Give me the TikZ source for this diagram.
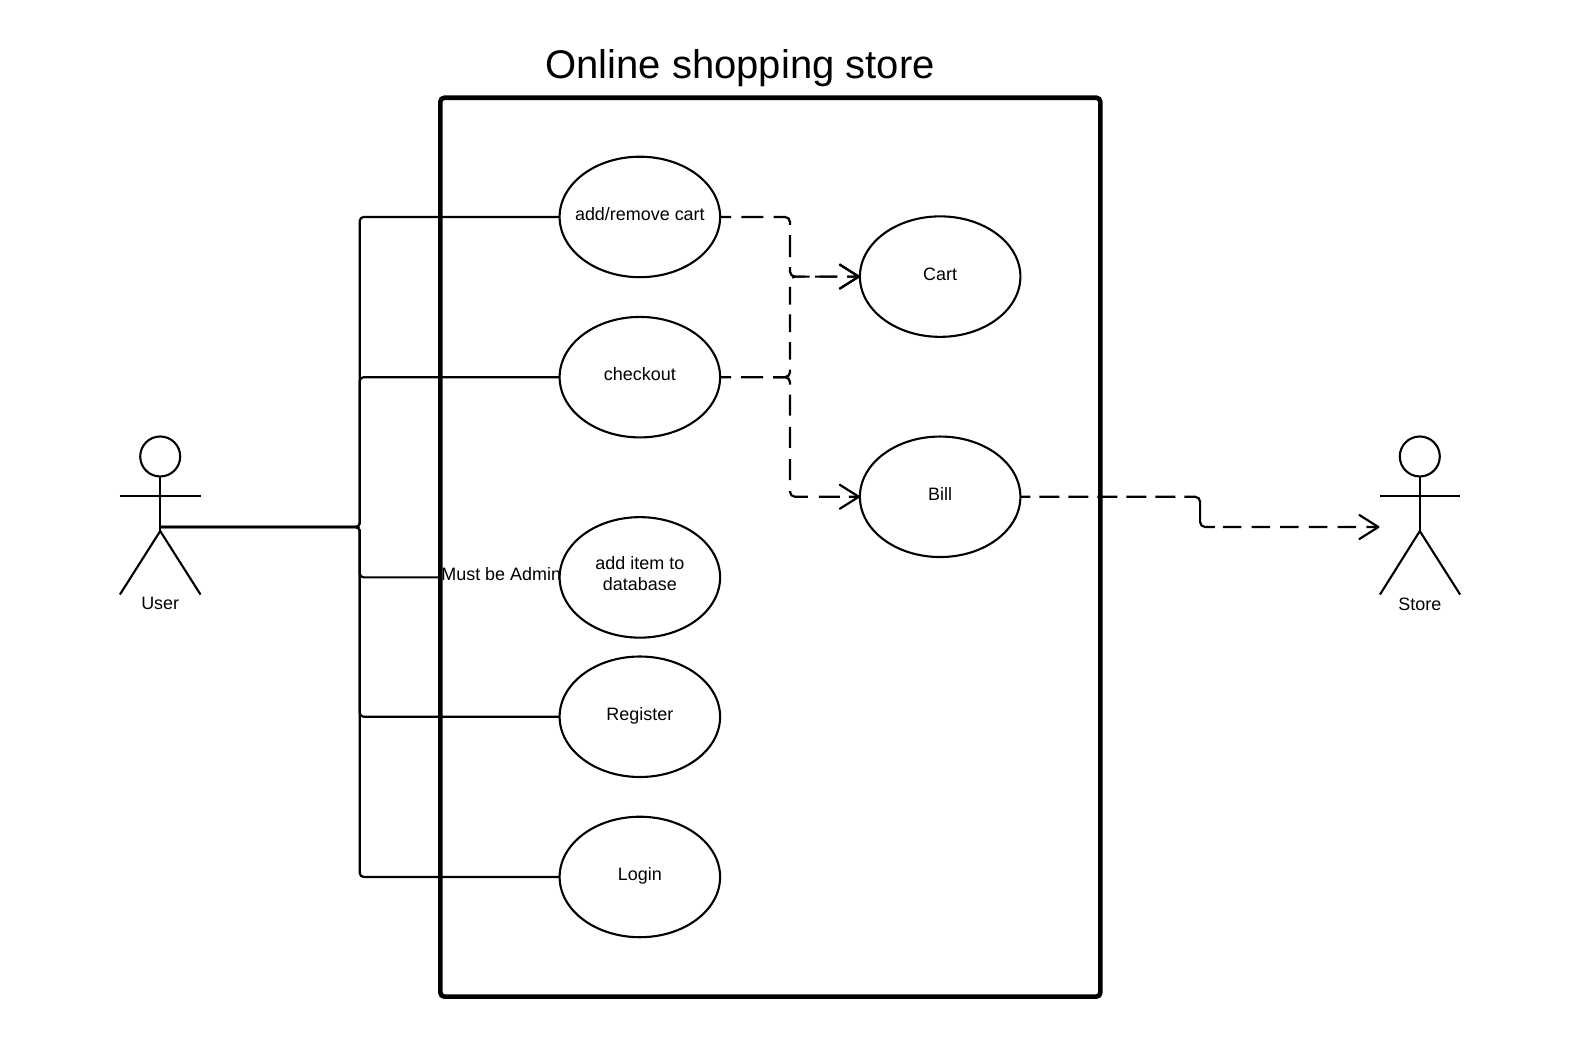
\documentclass[tikz,border=0pt]{standalone}
\usepackage{fontspec}
\setmainfont{Liberation Sans}
\usetikzlibrary{shapes.geometric,arrows.meta}
\tikzset{
  x=1.0077pt,y=-1.0077pt,
  lbl/.style={font=\fontsize{17.95pt}{21pt}\selectfont,align=center,inner sep=0pt,outer sep=0pt},
  usecase/.style={draw,ellipse,line width=2.1pt,minimum width=160.5pt,minimum height=120.5pt,inner sep=0pt,outer sep=0pt,font=\fontsize{17.95pt}{21pt}\selectfont},
  assoc/.style={line width=2.2pt,rounded corners=4pt},
  dep/.style={line width=2.2pt,rounded corners=5pt},
  deparrow/.style={dep,-{Straight Barb[length=19pt,width=24pt,line width=2.2pt,round]}},
  head/.style={draw,circle,line width=2.1pt,minimum size=40pt,inner sep=0pt,outer sep=0pt},
  limb/.style={line width=2.1pt},
  frame/.style={draw,line width=4.6pt,rounded corners=4pt}
}
\begin{document}
\begin{tikzpicture}
\useasboundingbox (0,0) rectangle (1568,1029);
\node[lbl,font=\fontsize{40pt}{46pt}\selectfont] (title) at (734.5,67.5) {Online shopping store};
\coordinate (fa) at (437,97);
\coordinate (fb) at (1092,989);
\draw[frame] (fa) rectangle (fb);

\node[usecase] (addcart) at (635,215.3) {\makebox[0pt]{\raisebox{6pt}{add/remove cart}}};
\node[usecase] (checkout) at (635,374.3) {\makebox[0pt]{\raisebox{7pt}{checkout}}};
\node[usecase] (additem) at (635,573) {\makebox[0pt]{\raisebox{20pt}{\begin{tabular}{@{}c@{}}add item to\\[0.7pt]database\end{tabular}}}};
\node[usecase] (register) at (635,711.3) {\makebox[0pt]{\raisebox{6pt}{Register}}};
\node[usecase] (login) at (635,870.3) {\makebox[0pt]{\raisebox{6pt}{Login}}};
\node[usecase] (cart) at (933,274.5) {\makebox[0pt]{\raisebox{4pt}{Cart}}};
\node[usecase] (bill) at (933,493) {\makebox[0pt]{\raisebox{6pt}{Bill}}};

% User actor
\node[head] (uhead) at (159,453) {};
\coordinate (uhip) at (159,527);
\coordinate (ularm) at (119,492);
\coordinate (urarm) at (199,492);
\coordinate (ulleg) at (119,590);
\coordinate (urleg) at (199,590);
\draw[limb] (uhead.south) -- (uhip);
\draw[limb] (ularm) -- (urarm);
\draw[limb] (ulleg) -- (uhip) -- (urleg);
\node[lbl] (user) at (159,599) {User};

% Store actor
\node[head] (shead) at (1409,453) {};
\coordinate (ship) at (1409,527);
\coordinate (slarm) at (1369.5,492);
\coordinate (srarm) at (1449,492);
\coordinate (slleg) at (1369.5,590);
\coordinate (srleg) at (1449,590);
\draw[limb] (shead.south) -- (ship);
\draw[limb] (slarm) -- (srarm);
\draw[limb] (slleg) -- (ship) -- (srleg);
\node[lbl] (store) at (1409,599.5) {Store};

% Associations
\node[lbl,anchor=west] (admin) at (438,570) {Must be Admin};
\coordinate (uconn) at (159,523);
\coordinate (bus) at (357,523);
\coordinate (adminin) at (437,573);
\draw[assoc] (uconn) -- (bus) -- (bus |- addcart.west) -- (addcart.west);
\draw[assoc] (uconn) -- (bus) -- (bus |- checkout.west) -- (checkout.west);
\draw[assoc] (uconn) -- (bus) -- (bus |- adminin) -- (adminin);
\draw[assoc] (uconn) -- (bus) -- (bus |- register.west) -- (register.west);
\draw[assoc] (uconn) -- (bus) -- (bus |- login.west) -- (login.west);

% Dependencies
\coordinate (split) at (784,374.3);
\coordinate (jog) at (1191,493);
\coordinate (storein) at (1369,523);
\draw[deparrow,dash pattern=on 22pt off 10.2pt,dash phase=11pt] (addcart.east) -- (split |- addcart.east) -- (split |- cart.west) -- (cart.west);
\draw[deparrow,dash pattern=on 11pt off 10pt on 22pt off 10pt on 22pt off 10pt on 17.7pt off 9.9pt on 17.7pt off 9.9pt on 17.7pt off 9.9pt on 17.7pt off 9.9pt on 17.7pt off 9.9pt on 30pt off 10pt] (checkout.east) -- (split) -- (split |- cart.west) -- (cart.west);
\draw[deparrow,dash pattern=on 0pt off 53pt on 22pt off 10pt on 21pt off 11.2pt on 21pt off 11.2pt on 21pt off 11.2pt on 21pt off 11.2pt on 21pt off 9pt on 30pt off 10pt] (checkout.east) -- (split) -- (split |- bill.west) -- (bill.west);
\draw[deparrow,dash pattern=on 20pt off 9pt on 20pt off 9pt on 20pt off 9pt on 20pt off 9pt on 20pt off 9pt on 20pt off 9pt on 56pt off 8pt on 18.5pt off 10.2pt on 18.5pt off 10.2pt on 18.5pt off 10.2pt on 18.5pt off 10.2pt on 18.5pt off 10.2pt on 30pt off 20pt,dash phase=10pt] (bill.east) -- (jog) -- (jog |- storein) -- (storein);
\end{tikzpicture}
\end{document}
